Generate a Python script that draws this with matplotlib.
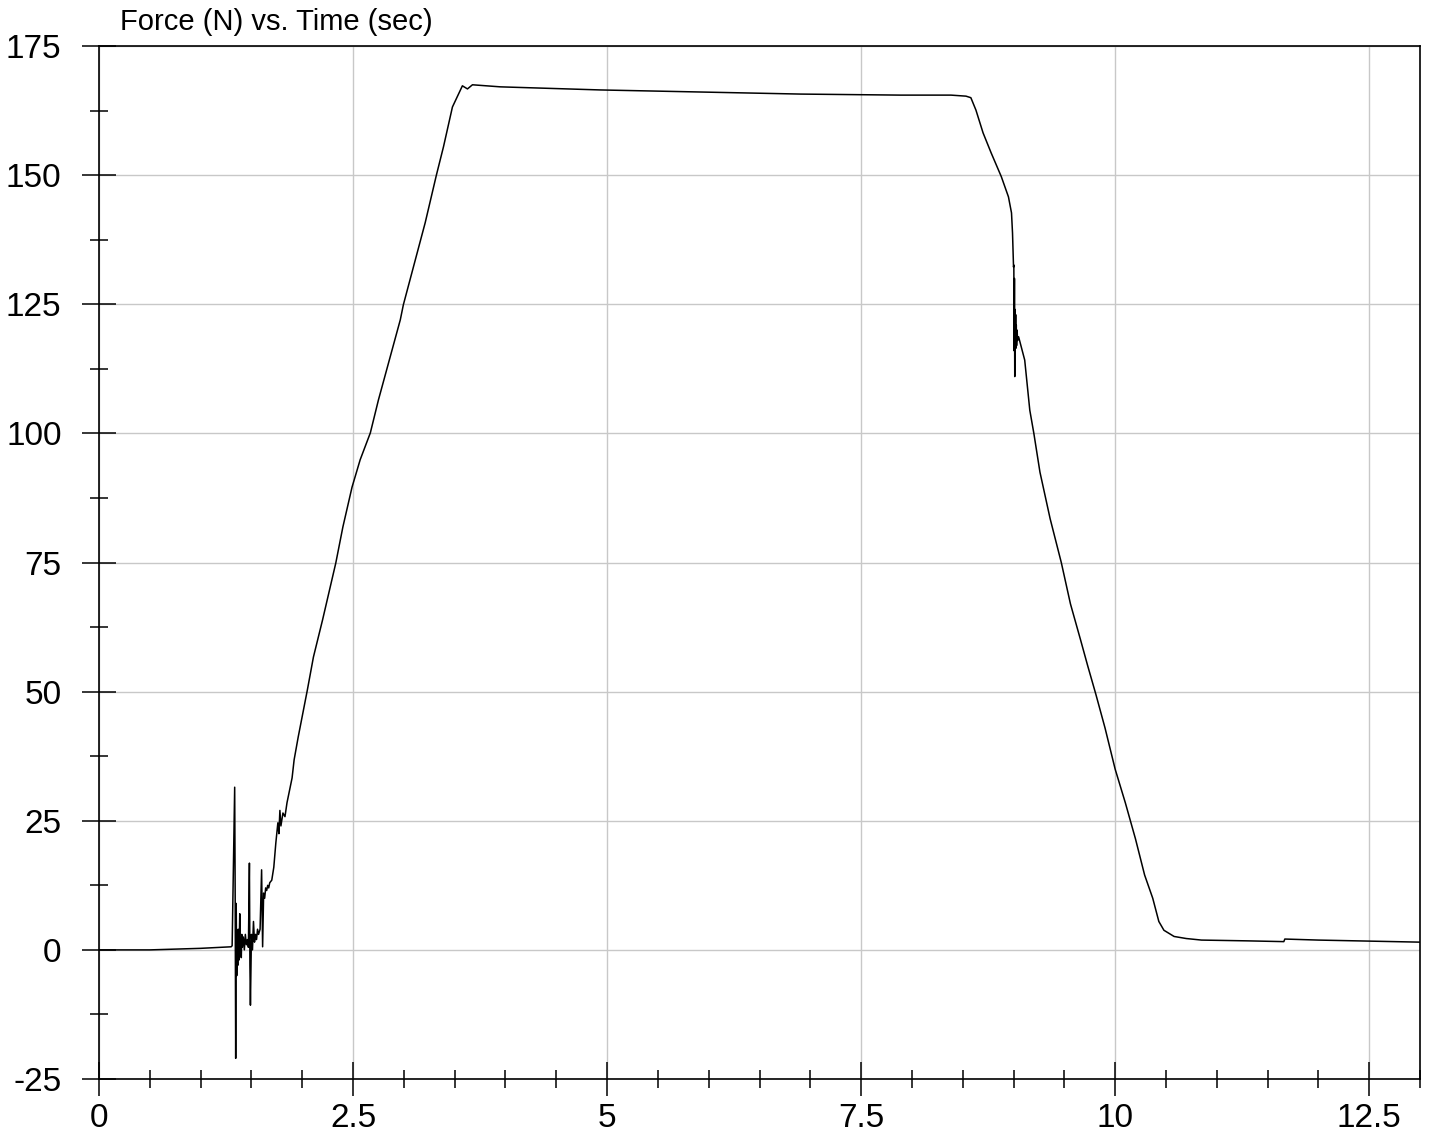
import numpy as np
import matplotlib.pyplot as plt
from matplotlib.ticker import MultipleLocator, FuncFormatter

plt.rcParams['font.family'] = ['Liberation Sans', 'DejaVu Sans']
plt.rcParams['axes.unicode_minus'] = False

# force trace: time (sec), force (N)
t_rise = [0.0, 0.5, 1.0, 1.3, 1.31, 1.335, 1.34, 1.345, 1.35, 1.355, 1.36, 1.365,
          1.37, 1.375, 1.38, 1.385, 1.39, 1.395, 1.40, 1.405, 1.41, 1.42, 1.43,
          1.44, 1.45, 1.46, 1.47, 1.48, 1.485, 1.49, 1.50, 1.51, 1.52, 1.53, 1.54,
          1.55, 1.56, 1.57, 1.585, 1.60, 1.61, 1.62, 1.63, 1.64, 1.65, 1.66, 1.67,
          1.68, 1.70, 1.72, 1.74, 1.76, 1.77, 1.78, 1.79, 1.81, 1.83, 1.85, 1.90,
          1.92, 1.96, 2.05, 2.11, 2.20, 2.33, 2.40, 2.49, 2.57, 2.67, 2.75, 2.965,
          2.995, 3.21, 3.32, 3.39, 3.478, 3.576, 3.626, 3.675, 3.95]
f_rise = [0.0, 0.0, 0.3, 0.6, 0.8, 31.5, 10.0, -21.0, 9.0, -5.0, 2.0, -3.0,
          4.0, -2.0, 1.0, 7.0, -1.0, 2.0, -1.5, 3.0, 0.5, 2.5, 0.0,
          3.0, 1.0, 2.0, 0.5, 16.8, -3.0, -10.7, 3.0, 0.0, 5.5, 1.5, 3.0,
          2.0, 4.0, 3.0, 4.0, 15.5, 0.6, 11.0, 10.0, 12.0, 11.5, 12.5, 12.0,
          13.0, 13.5, 16.0, 20.7, 24.6, 22.5, 27.0, 24.0, 26.5, 25.8, 28.5, 33.3,
          36.8, 41.2, 50.3, 56.7, 63.9, 74.9, 81.9, 89.6, 94.9, 100.1, 106.5, 122.0,
          124.9, 140.8, 150.0, 155.5, 163.2, 167.3, 166.7, 167.5, 167.1]

t_hold = [4.936, 5.92, 6.906, 7.89, 8.384, 8.532, 8.58, 8.63, 8.70, 8.78, 8.88,
          8.95, 8.98, 8.99, 9.0]
f_hold = [166.5, 166.1, 165.7, 165.5, 165.5, 165.3, 165.0, 162.6, 158.2, 154.3, 149.7,
          145.8, 142.7, 138.8, 132.2]

t_fall = [9.003, 9.006, 9.009, 9.012, 9.015, 9.018, 9.021, 9.024, 9.027, 9.03,
          9.035, 9.04, 9.05, 9.11, 9.16, 9.2, 9.26, 9.36, 9.47, 9.56, 9.66, 9.73,
          9.81, 9.9, 10.0, 10.1, 10.2, 10.29, 10.37, 10.43, 10.48, 10.58, 10.7, 10.85,
          11.0, 11.3, 11.66, 11.67, 12.0, 12.5, 13.0]
f_fall = [132.6, 116.0, 130.0, 111.0, 124.0, 117.0, 123.0, 116.5, 121.0, 117.0,
          120.0, 118.0, 118.7, 114.2, 104.5, 100.0, 92.5, 83.5, 75.0, 67.0, 60.0, 55.0,
          49.5, 43.0, 35.0, 28.5, 21.5, 14.5, 10.0, 5.5, 3.8, 2.6, 2.2, 1.9,
          1.85, 1.75, 1.6, 2.1, 1.9, 1.7, 1.5]

t = np.array(t_rise + t_hold + t_fall)
force = np.array(f_rise + f_hold + f_fall)

fig = plt.figure(figsize=(14.31, 11.37), dpi=100)
ax = fig.add_axes([0.0692, 0.051, 0.9231, 0.9085])

ax.plot(t, force, color="black", lw=1.1)

ax.set_xlim(0, 13)
ax.set_ylim(-25, 175)
ax.xaxis.set_major_locator(MultipleLocator(2.5))
ax.xaxis.set_minor_locator(MultipleLocator(0.5))
ax.yaxis.set_major_locator(MultipleLocator(25))
ax.yaxis.set_minor_locator(MultipleLocator(12.5))
ax.xaxis.set_major_formatter(FuncFormatter(lambda v, p: "%g" % v))
ax.yaxis.set_major_formatter(FuncFormatter(lambda v, p: "%d" % v))

ax.grid(True, which="major", color="#c8c8c8", lw=1.0)
ax.set_axisbelow(True)

ax.tick_params(which="major", direction="inout", length=24, width=1.1,
               labelsize=24, colors="black")
ax.tick_params(which="minor", direction="inout", length=13, width=1.1)
ax.tick_params(axis="y", which="major", pad=15)
ax.tick_params(axis="x", which="major", pad=5)

for s in ax.spines.values():
    s.set_linewidth(1.2)
    s.set_color("black")

fig.text(120 / 1431, 1 - 30 / 1137, "Force (N) vs. Time (sec)", fontsize=21,
         va="baseline", ha="left")

plt.savefig("out.png", dpi=100)
